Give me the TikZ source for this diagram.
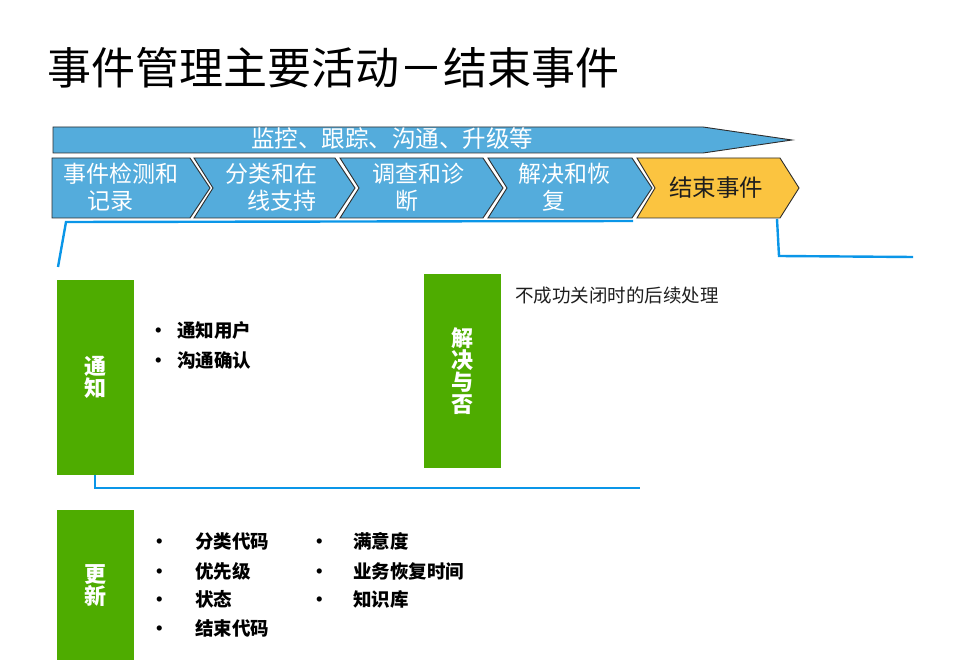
\documentclass[tikz,border=0pt]{standalone}
\usepackage{fontspec}
\setmainfont{Noto Sans CJK SC}
\definecolor{chevblue}{RGB}{84,172,220}
\definecolor{chevyellow}{RGB}{251,196,64}
\definecolor{boxgreen}{RGB}{78,172,0}
\definecolor{linkblue}{RGB}{10,150,232}
\definecolor{edgegray}{RGB}{45,45,45}
\definecolor{txtdark}{RGB}{30,30,30}
\tikzset{
  chevshape/.style={fill=chevblue,draw=edgegray,line width=0.9pt,line join=miter},
  chevtext/.style={text=white,font=\fontsize{23}{27}\selectfont,align=left,inner sep=0pt,anchor=west},
  greenbox/.style={fill=boxgreen,draw=none,minimum width=77pt,text=white,
    font=\fontsize{22}{22}\selectfont\bfseries,align=center,inner sep=0pt},
  bulletitem/.style={anchor=west,inner sep=0pt,text=black,font=\fontsize{18.5}{20}\selectfont\bfseries},
  link/.style={draw=linkblue,line width=2.4pt,line join=miter}
}
\begin{document}
\begin{tikzpicture}[x=1pt,y=-1pt]
\useasboundingbox (0,0) rectangle (967,660);

% title
\node[anchor=west,inner sep=0pt,text=black,font=\fontsize{44}{44}\selectfont] (title) at (47,68) {事件管理主要活动－结束事件};

% top arrow
\draw[chevshape] (53,127)--(703,127)--(792,140)--(703,153)--(53,153)--cycle;
\node[text=white,font=\fontsize{23.5}{24}\selectfont,inner sep=0pt] (monitor) at (392,139) {监控、跟踪、沟通、升级等};

% chevrons
\draw[chevshape] (52,158)--(190,158)--(210,188)--(190,218)--(52,218)--cycle;
\draw[chevshape] (194,158)--(335,158)--(355,188)--(335,218)--(194,218)--(213,188)--cycle;
\draw[chevshape] (340,158)--(483,158)--(503,188)--(483,218)--(340,218)--(359,188)--cycle;
\draw[chevshape] (488,158)--(632,158)--(652,188)--(632,218)--(488,218)--(507,188)--cycle;
\draw[chevshape,fill=chevyellow] (637,158)--(780,158)--(799,188)--(780,218)--(637,218)--(655,188)--cycle;

\node[chevtext] (c1) at (63,187) {事件检测和\\\hspace*{1.05em}记录};
\node[chevtext] (c2) at (225,187) {分类和在\\\hspace*{0.95em}线支持};
\node[chevtext] (c3) at (372,187) {调查和诊\\\hspace*{1em}断};
\node[chevtext] (c4) at (518,187) {解决和恢\\\hspace*{1.05em}复};
\node[text=txtdark,font=\fontsize{23.5}{24}\selectfont,inner sep=0pt] (c5) at (716,188) {结束事件};

% bracket lines
\coordinate (a1) at (58,267);
\coordinate (a2) at (66,222);
\coordinate (a3) at (633,221);
\draw[link] (a1)--(a2)--(a3);
\coordinate (b1) at (777,219);
\coordinate (b2) at (779,256);
\coordinate (b3) at (913,257);
\draw[link] (b1)--(b2)--(b3);
\coordinate (d1) at (95,475);
\coordinate (d2) at (95,488);
\coordinate (d3) at (640,488);
\draw[link] (d1)--(d2)--(d3);

% green boxes
\node[greenbox,minimum height=195pt] (notify) at (95.5,377.5) {通\\知};
\node[greenbox,minimum height=194pt] (resolve) at (462.5,371) {解\\决\\与\\否};
\node[greenbox,minimum height=152pt] (update) at (95.5,586) {更\\新};

% notify list
\node[bulletitem] (n1) at (159,330) {\makebox[0pt][c]{•}\hspace{18pt}通知用户};
\node[bulletitem] (n2) at (159,360) {\makebox[0pt][c]{•}\hspace{18pt}沟通确认};

% resolve note
\node[anchor=west,inner sep=0pt,text=txtdark,font=\fontsize{18.5}{20}\selectfont] (rnote) at (515,295) {不成功关闭时的后续处理};

% update lists
\node[bulletitem] (u1) at (160,541) {\makebox[0pt][c]{•}\hspace{35pt}分类代码};
\node[bulletitem] (u2) at (160,571) {\makebox[0pt][c]{•}\hspace{35pt}优先级};
\node[bulletitem] (u3) at (160,599) {\makebox[0pt][c]{•}\hspace{35pt}状态};
\node[bulletitem] (u4) at (160,628) {\makebox[0pt][c]{•}\hspace{35pt}结束代码};
\node[bulletitem] (v1) at (320,541) {\makebox[0pt][c]{•}\hspace{33pt}满意度};
\node[bulletitem] (v2) at (320,571) {\makebox[0pt][c]{•}\hspace{33pt}业务恢复时间};
\node[bulletitem] (v3) at (320,599) {\makebox[0pt][c]{•}\hspace{33pt}知识库};
\end{tikzpicture}
\end{document}
